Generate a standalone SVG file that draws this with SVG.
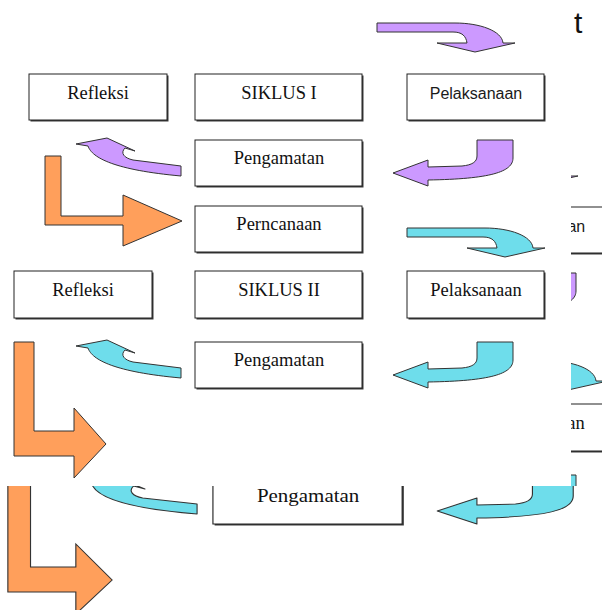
<svg xmlns="http://www.w3.org/2000/svg" width="602" height="610" viewBox="0 0 602 610">
<style>
.sh{fill:#3a3a3a}
.bx{fill:#fff;stroke:#222;stroke-width:1}
.tx{font-family:"Liberation Serif","Times New Roman",serif;font-size:18.5px;fill:#111;text-anchor:middle}
.ts{font-family:"Liberation Sans",Arial,sans-serif;font-size:16px;fill:#1a1a1a;text-anchor:middle}
.pu{fill:#CC99FF;stroke:#333;stroke-width:1;stroke-linejoin:round}
.cy{fill:#6EDDEB;stroke:#333;stroke-width:1;stroke-linejoin:round}
.or{fill:#FF9F5B;stroke:#333;stroke-width:1;stroke-linejoin:miter}
</style>
<defs>
<clipPath id="clipStrip"><rect x="571" y="150" width="31" height="336"/></clipPath>
<clipPath id="clipBottom"><rect x="0" y="486" width="602" height="124"/></clipPath>
<path id="curveDown" d="M 407,228 L 485,228 C 510,228 532,236 533,248 L 545,248 L 505,257 L 467,248 L 497,248 C 496,241 492,237 483,237 L 407,237 Z"/>
<path id="hookLeft" d="M 477,140 L 513,140 L 513,158 C 513,172 490,179 428,180 L 428,186 L 393,173 L 428,160 L 428,167 L 462,166 C 472,165 477,162 477,156 Z"/>
<path id="curveUp" d="M 181,166 L 133,160 C 124,158 120,153 125,148 L 135,151 L 107,138 L 76,144 L 88,146 C 92,158 115,170 181,176 Z"/>
</defs>
<rect x="0" y="0" width="602" height="610" fill="#fff"/>
<text x="574" y="33" font-family="'Liberation Sans',Arial,sans-serif" font-size="30" fill="#111">t</text>
<g id="page">
  <g id="connectors">
    <use href="#curveDown" class="pu" transform="translate(-30,-205)"/>
    <use href="#hookLeft" class="pu"/>
    <use href="#curveUp" class="pu"/>
    <path class="or" d="M 45,156 L 61,156 L 61,216 L 123,216 L 123,195 L 182,221 L 123,246 L 123,225 L 45,225 Z"/>
    <use href="#curveDown" class="cy"/>
    <use href="#hookLeft" class="cy" transform="translate(0,202)"/>
    <use href="#curveUp" class="cy" transform="translate(0,202)"/>
    <path class="or" d="M 14,342 L 34,342 L 34,431 L 74,431 L 74,408 L 106,444 L 74,478 L 74,456 L 14,456 Z"/>
  </g>
  <g id="node-refleksi-1"><rect class="sh" x="30.5" y="75.5" width="138" height="46"/><rect class="bx" x="29" y="74" width="138" height="46"/><text class="tx" x="98" y="99">Refleksi</text></g>
  <g id="node-siklus-1"><rect class="sh" x="196.5" y="75.5" width="167" height="46"/><rect class="bx" x="195" y="74" width="167" height="46"/><text class="tx" x="279" y="99">SIKLUS I</text></g>
  <g id="node-pelaksanaan-1"><rect class="sh" x="408.5" y="75.5" width="137" height="46"/><rect class="bx" x="407" y="74" width="137" height="46"/><text class="ts" x="476" y="99">Pelaksanaan</text></g>
  <g id="node-pengamatan-1"><rect class="sh" x="196.5" y="141.5" width="167" height="46"/><rect class="bx" x="195" y="140" width="167" height="46"/><text class="tx" x="279" y="164">Pengamatan</text></g>
  <g id="node-perncanaan"><rect class="sh" x="196.5" y="207.5" width="167" height="46"/><rect class="bx" x="195" y="206" width="167" height="46"/><text class="tx" x="279" y="230">Perncanaan</text></g>
  <g id="node-refleksi-2"><rect class="sh" x="15.5" y="272.5" width="138" height="47"/><rect class="bx" x="14" y="271" width="138" height="47"/><text class="tx" x="83" y="296">Refleksi</text></g>
  <g id="node-siklus-2"><rect class="sh" x="196.5" y="272.5" width="167" height="47"/><rect class="bx" x="195" y="271" width="167" height="47"/><text class="tx" x="279" y="296">SIKLUS II</text></g>
  <g id="node-pelaksanaan-2"><rect class="sh" x="408.5" y="272.5" width="137" height="47"/><rect class="bx" x="407" y="271" width="137" height="47"/><text class="tx" x="476" y="296">Pelaksanaan</text></g>
  <g id="node-pengamatan-2"><rect class="sh" x="196.5" y="343.5" width="167" height="46"/><rect class="bx" x="195" y="342" width="167" height="46"/><text class="tx" x="279" y="366">Pengamatan</text></g>
</g>
<g id="strip-right" clip-path="url(#clipStrip)"><use href="#page" transform="translate(63,133)"/></g>
<g id="bottom-copy" clip-path="url(#clipBottom)"><use href="#page" transform="translate(-8,136) scale(1.133,1)"/></g>
</svg>
